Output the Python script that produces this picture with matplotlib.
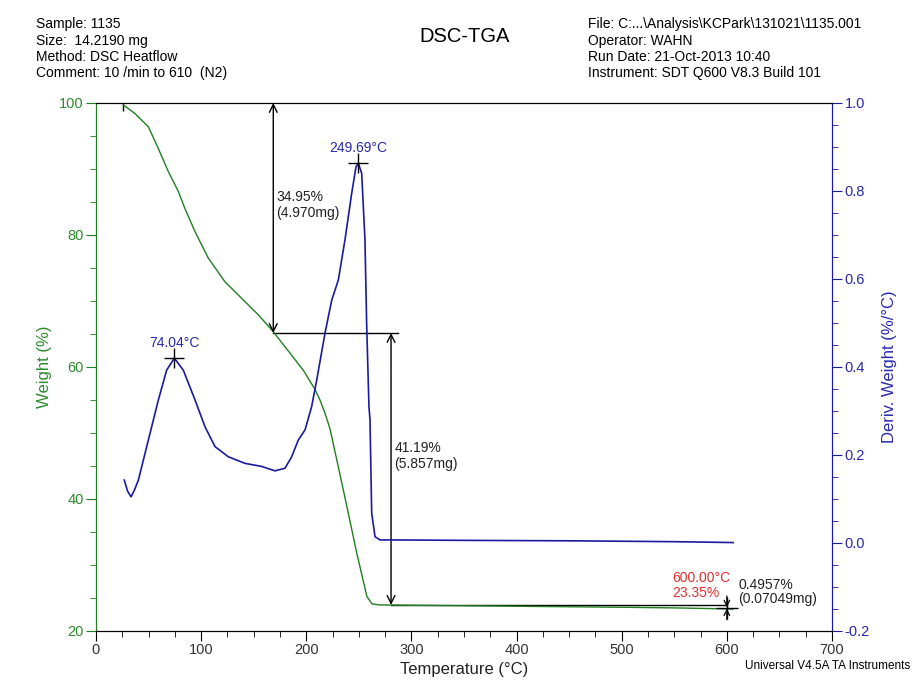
import matplotlib
matplotlib.use("Agg")
import matplotlib.pyplot as plt
from matplotlib.ticker import MultipleLocator, FormatStrFormatter

plt.rcParams['font.family'] = ['Liberation Sans', 'DejaVu Sans']

# ---- data ----
tga_temp = [26, 37.1, 49.8, 59.3, 68.8, 78.3, 84.6, 94.2, 106.8, 122.7, 138.6, 154.4, 168.6,
            184.5, 197.2, 208.3, 213, 217.8, 222.6, 230, 238.7, 248, 257.7, 262.5, 270, 300, 400,
            500, 550, 600, 606]
tga_wt = [99.7, 98.4, 96.4, 93.1, 89.6, 86.6, 84.0, 80.5, 76.5, 72.9, 70.4, 67.9, 65.35,
          62.1, 59.5, 56.6, 55.0, 53.0, 50.6, 45.2, 38.8, 31.8, 25.2, 24.1, 23.95, 23.9, 23.75,
          23.6, 23.5, 23.35, 23.33]

dtg_temp = [26.9, 30, 33.3, 36.5, 40.3, 49.8, 59.3, 67.2, 74.5, 83, 94.2, 103.7, 113.2, 125.8,
            141.7, 157.6, 170.2, 179.8, 186.1, 192.4, 198.8, 205.1, 209.9, 217.8, 224.2, 230.5,
            236.8, 243.2, 247.3, 249.5, 252.7, 255.8, 257.4, 259.6, 260.6, 262.2, 265.4, 270,
            279.6, 350, 450, 550, 606]
dtg_val = [0.143, 0.118, 0.105, 0.12, 0.143, 0.234, 0.325, 0.393, 0.42, 0.393, 0.325, 0.264,
           0.219, 0.196, 0.181, 0.174, 0.164, 0.170, 0.196, 0.234, 0.257, 0.31, 0.37, 0.477,
           0.552, 0.598, 0.689, 0.795, 0.855, 0.863, 0.84, 0.689, 0.499, 0.31, 0.28, 0.068,
           0.0144, 0.007, 0.007, 0.006, 0.005, 0.003, 0.001]

peak_labels = ["74.04°C", "249.69°C"]
peak_T = [74.5, 249.5]
peak_D = [0.42, 0.863]

step_T = [168.6, 280.6]
step_top = [100, 65.15]
step_bot = [65.15, 23.96]
step_text = ["34.95%\n(4.970mg)", "41.19%\n(5.857mg)"]

header_left = ["Sample: 1135", "Size:  14.2190 mg", "Method: DSC Heatflow", "Comment: 10 /min to 610  (N2)"]
header_right = ["File: C:...\\Analysis\\KCPark\\131021\\1135.001", "Operator: WAHN",
                "Run Date: 21-Oct-2013 10:40", "Instrument: SDT Q600 V8.3 Build 101"]

GREEN = '#1f7f1f'
GLAB = '#2e8b2e'
BLUE = '#1a1aa0'
BLAB = '#2828b0'

W, H = 914, 691
fig = plt.figure(figsize=(W / 100, H / 100), dpi=100)
ax = fig.add_axes([96 / W, 1 - 631 / H, (832 - 96) / W, (631 - 103) / H])
ax2 = ax.twinx()

ax.plot(tga_temp, tga_wt, color=GREEN, lw=1.0, zorder=3)
ax2.plot(dtg_temp, dtg_val, color=BLUE, lw=1.2, zorder=3)

ax.set_xlim(0, 700)
ax.set_ylim(20, 100)
ax2.set_ylim(-0.2, 1.0)

ax.xaxis.set_major_locator(MultipleLocator(100))
ax.xaxis.set_minor_locator(MultipleLocator(25))
ax.yaxis.set_major_locator(MultipleLocator(20))
ax.yaxis.set_minor_locator(MultipleLocator(5))
ax2.yaxis.set_major_locator(MultipleLocator(0.2))
ax2.yaxis.set_minor_locator(MultipleLocator(0.05))
ax2.yaxis.set_major_formatter(FormatStrFormatter('%.1f'))

for a in (ax, ax2):
    a.spines['top'].set_color('black')
    a.spines['bottom'].set_color('black')
    a.spines['left'].set_color(GREEN)
    a.spines['right'].set_color(BLUE)
    a.patch.set_visible(False)

ax.tick_params(axis='x', which='major', direction='out', length=7, colors='black', labelsize=10.5,
               labelcolor='#333333', pad=2)
ax.tick_params(axis='x', which='minor', direction='out', length=4, colors='black')
ax.tick_params(axis='y', which='major', direction='out', length=7, colors=GREEN, labelsize=10.5,
               labelcolor=GLAB, pad=2)
ax.tick_params(axis='y', which='minor', direction='out', length=4, colors=GREEN)
ax2.tick_params(axis='y', which='major', direction='out', length=7, colors=BLUE, labelsize=10.5,
                labelcolor=BLAB, pad=2)
ax2.tick_params(axis='y', which='minor', direction='out', length=4, colors=BLUE)

ax.set_xlabel("Temperature (°C)", fontsize=12, color='#222222', labelpad=3)
ax.set_ylabel("Weight (%)", fontsize=12, color=GLAB, labelpad=5)
ax2.set_ylabel("Deriv. Weight (%/°C)", fontsize=12, color=BLAB, labelpad=9)

# peak labels
for lab, t, d in zip(peak_labels, peak_T, peak_D):
    ax2.plot([t], [d], marker='+', ms=14, mew=1.0, color='black', zorder=5)
    ax2.text(t, d + 0.018, lab, color=BLAB, fontsize=10, ha='center', va='bottom')

# step analysis annotations
arrow_kw = dict(arrowstyle='<->', color='black', lw=1.0, mutation_scale=14, shrinkA=0, shrinkB=0)
for t, top, bot, txt in zip(step_T, step_top, step_bot, step_text):
    ax.annotate('', xy=(t, top), xytext=(t, bot), arrowprops=arrow_kw)
    ax.text(t + 3, (top + bot) / 2 + 2.0, txt, fontsize=10, color='#222222', ha='left', va='center',
            linespacing=1.15)
ax.plot([26], [100], marker='|', ms=12, color='black')
ax.plot([step_T[0], 287], [step_bot[0], step_bot[0]], color='black', lw=1.0)
ax.plot([step_T[1], 600], [step_bot[1], step_bot[1]], color='black', lw=1.0, zorder=2)

# residue marker at 600
ax.plot([600], [23.5], marker='+', ms=16, mew=1.0, color='black', zorder=5)
small = dict(arrowstyle='->', color='black', lw=0.9, mutation_scale=10, shrinkA=0, shrinkB=0)
ax.annotate('', xy=(600, 23.6), xytext=(600, 25.3), arrowprops=small)
ax.annotate('', xy=(600, 23.4), xytext=(600, 21.7), arrowprops=small)
ax.text(547.8, 26.9, "600.00°C\n23.35%", color='#e03030', fontsize=10, ha='left', va='center',
        linespacing=1.05)
ax.text(610.6, 25.9, "0.4957%\n(0.07049mg)", color='#222222', fontsize=10, ha='left', va='center',
        linespacing=1.05)

# header texts
for i, s in enumerate(header_left):
    fig.text(36 / W, 1 - (24 + 16.5 * i) / H, s, fontsize=10, ha='left', va='center')
for i, s in enumerate(header_right):
    fig.text(588 / W, 1 - (24 + 16.5 * i) / H, s, fontsize=10, ha='left', va='center')
fig.text(465 / W, 1 - 36 / H, "DSC-TGA", fontsize=14.5, ha='center', va='center')
fig.text(910 / W, 1 - 666 / H, "Universal V4.5A TA Instruments", fontsize=8.5, ha='right', va='center')

fig.savefig("out.png", dpi=100)
